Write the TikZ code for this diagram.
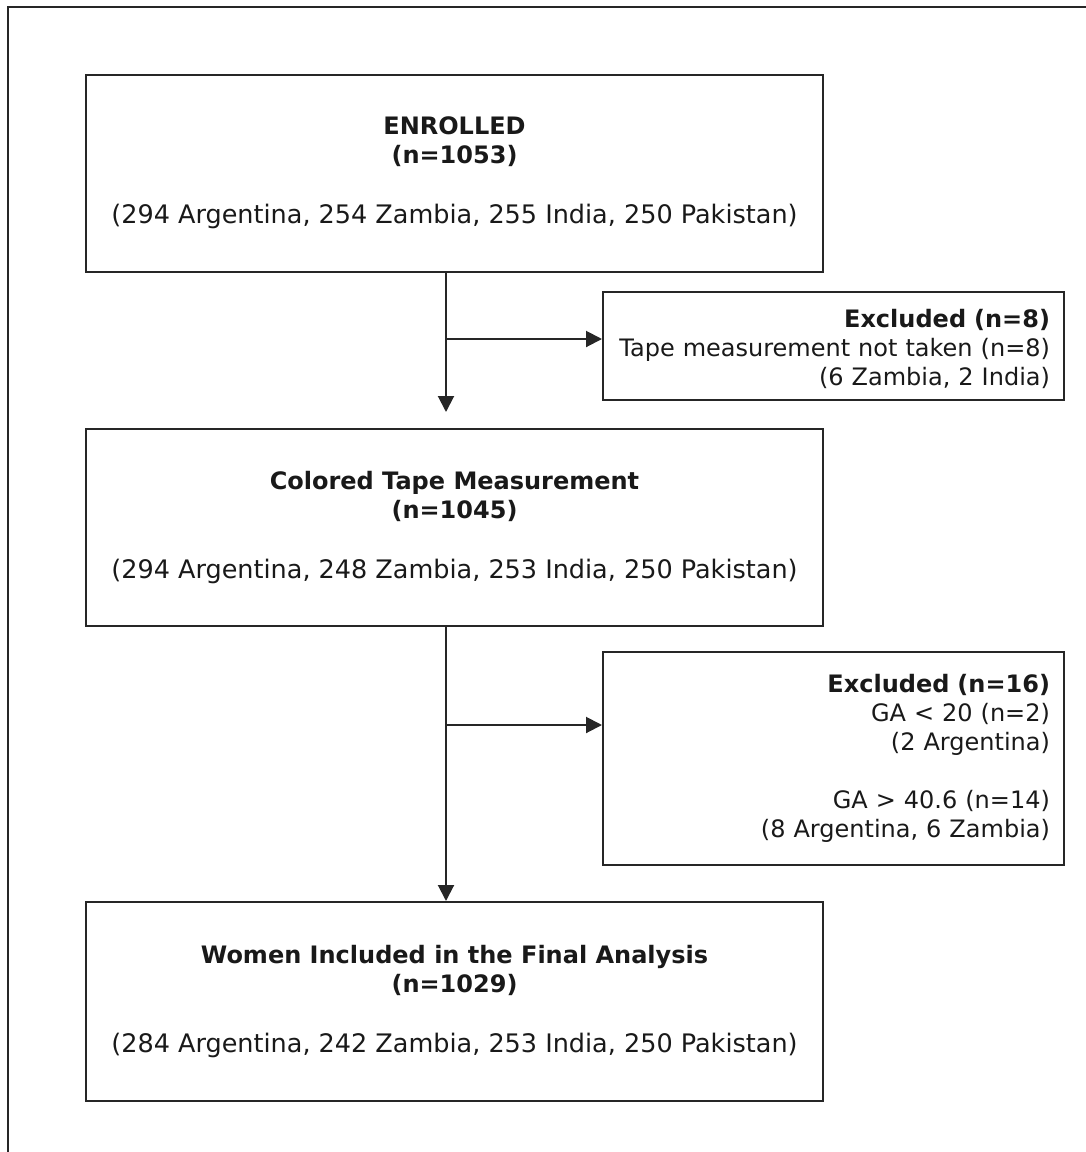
\documentclass[tikz,border=0pt]{standalone}
\usepackage{fontspec}
\setmainfont{DejaVu Sans}
\usetikzlibrary{arrows.meta}

\newcommand{\hd}[1]{{\fontsize{12}{14.5}\selectfont\bfseries #1}}

\begin{document}
\begin{tikzpicture}[x=0.5pt,y=-0.5pt,
  mainbox/.style={draw=black!85,line width=1pt,minimum width=368.5pt,minimum height=98.5pt,
    inner sep=0pt,align=center,text=black!90,font=\fontsize{12.75}{14.5}\selectfont},
  exbox/.style={draw=black!85,line width=1pt,text width=216.5pt,inner xsep=7pt,inner ysep=0pt,
    align=right,text=black!90,font=\fontsize{12}{14.5}\selectfont},
  flow/.style={draw=black!85,line width=1pt,-{Triangle[length=8pt,width=8pt]}}]
\useasboundingbox (0,0) rectangle (1086,1152);
% outer frame
\draw[black!85,line width=1pt] (1086,7) -- (8,7) -- (8,1152);

% main boxes
\node[mainbox] (enrolled) at (454.5,173) {\hd{ENROLLED}\\\hd{(n=1053)}\\[15.5pt]
  (294 Argentina, 254 Zambia, 255 India, 250 Pakistan)};
\node[mainbox] (tape) at (454.5,527.5) {\hd{Colored Tape Measurement}\\\hd{(n=1045)}\\[15.5pt]
  (294 Argentina, 248 Zambia, 253 India, 250 Pakistan)};
\node[mainbox,minimum height=99.5pt] (final) at (454.5,1001.5) {\hd{Women Included in the Final Analysis}\\\hd{(n=1029)}\\[15.5pt]
  (284 Argentina, 242 Zambia, 253 India, 250 Pakistan)};

% exclusion boxes
\node[exbox,minimum height=54pt,text height=12pt] (excla) at (833.5,346) {\textbf{Excluded (n=8)}\\
  Tape measurement not taken (n=8)\\(6 Zambia, 2 India)};
\node[exbox,minimum height=106.5pt] (exclb) at (833.5,758.5) {\textbf{Excluded (n=16)}\\
  GA < 20 (n=2)\\(2 Argentina)\\[14.5pt]GA > 40.6 (n=14)\\(8 Argentina, 6 Zambia)};

% connectors
\coordinate (ja) at (446,339);
\coordinate (jb) at (446,725);
\draw[flow,shorten >=8pt] (enrolled.south -| ja) -- (tape.north -| ja);
\draw[flow] (ja) -- (ja -| excla.west);
\draw[flow] (tape.south -| jb) -- (final.north -| jb);
\draw[flow] (jb) -- (jb -| exclb.west);
\end{tikzpicture}
\end{document}
